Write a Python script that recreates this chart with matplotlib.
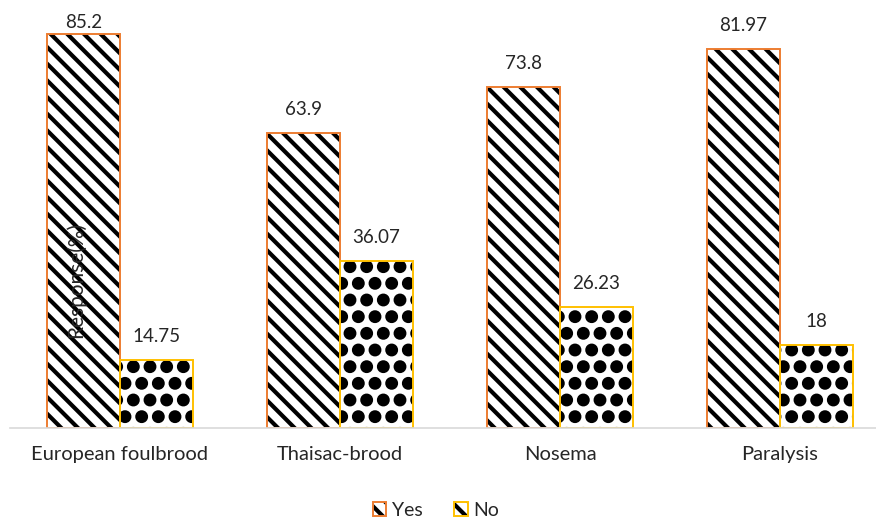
import numpy as np
import matplotlib
matplotlib.use("Agg")
import matplotlib.pyplot as plt
import matplotlib.hatch as mhatch
from matplotlib.patches import Patch

# filled dots for the "No" pattern
mhatch.LargeCircles.filled = True
mhatch.LargeCircles.size = 0.26

diseases = ["European foulbrood", "Thaisac-brood", "Nosema", "Paralysis"]
yes_vals = [85.2, 63.9, 73.8, 81.97]
no_vals = [14.75, 36.07, 26.23, 18]
yes_labels = ["85.2", "63.9", "73.8", "81.97"]
no_labels = ["14.75", "36.07", "26.23", "18"]

YES_C = "#ED7D31"
NO_C = "#FFC000"
TXT = "#262626"

plt.rcParams["font.family"] = ["Lato", "DejaVu Sans"]
plt.rcParams["hatch.linewidth"] = 3.0

fig = plt.figure(figsize=(8.76, 5.19), dpi=100)
ax = fig.add_axes([10 / 876, 91 / 519, 880 / 876, 415.8 / 519])

x = np.arange(len(diseases))
w = 0.332

# hatch in black, then coloured outline on top
ax.bar(x - w / 2, yes_vals, w, color="white", edgecolor="black", hatch="\\\\", linewidth=0)
ax.bar(x + w / 2, no_vals, w, color="white", edgecolor="black", hatch="O", linewidth=0)
ax.bar(x - w / 2, yes_vals, w, fill=False, edgecolor=YES_C, linewidth=1.4)
ax.bar(x + w / 2, no_vals, w, fill=False, edgecolor=NO_C, linewidth=1.4)

# labels sit ~18px over the bar, but are kept inside the chart area
gap = 3.9
top = 86.6
for xi, v, t in zip(x - w / 2, yes_vals, yes_labels):
    ax.text(xi, min(v + gap, top), t, ha="center", va="baseline", fontsize=13.5, color=TXT)
for xi, v, t in zip(x + w / 2, no_vals, no_labels):
    ax.text(xi, min(v + gap, top), t, ha="center", va="baseline", fontsize=13.5, color=TXT)

ax.set_xlim(-0.5, 3.5)
ax.set_ylim(0, 90)
ax.set_xticks(x)
ax.set_xticklabels(diseases, fontsize=14.5, color=TXT)
ax.tick_params(axis="x", length=0, pad=13)
ax.set_yticks([])
for s in ["top", "right", "left"]:
    ax.spines[s].set_visible(False)
ax.spines["bottom"].set_color("#D9D9D9")
ax.spines["bottom"].set_linewidth(1.2)

ax.text(76 / 876, 1 - 280 / 519, "Response(%)", transform=fig.transFigure,
        rotation=90, ha="center", va="center", fontsize=15,
        color=TXT, zorder=5)

handles = [(Patch(facecolor="white", edgecolor="black", hatch="\\\\", linewidth=0),
            Patch(fill=False, edgecolor=YES_C, linewidth=1.4)),
           (Patch(facecolor="white", edgecolor="black", hatch="\\\\", linewidth=0),
            Patch(fill=False, edgecolor=NO_C, linewidth=1.4))]
fig.legend(handles=handles, labels=["Yes", "No"], loc="center",
           bbox_to_anchor=(436 / 876, 1 - 510 / 519),
           ncol=2, frameon=False, fontsize=14, handlelength=0.7, handleheight=0.7,
           handletextpad=0.3, columnspacing=1.6, labelcolor=TXT)

fig.savefig("out.png", dpi=100)
